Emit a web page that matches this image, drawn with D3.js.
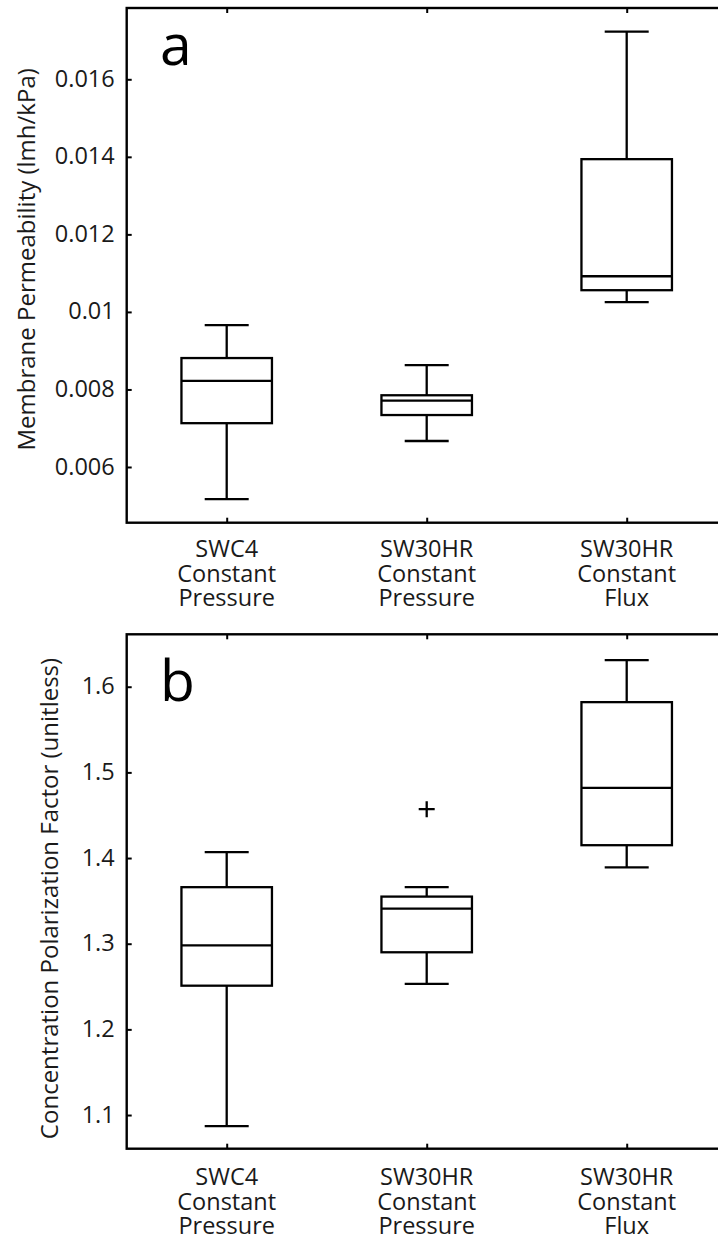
<!DOCTYPE html>
<html>
<head>
<meta charset="utf-8">
<script src="https://cdn.jsdelivr.net/npm/d3@7"></script>
<style>
  body { margin: 0; background: #fff; }
  svg { display: block; font-family: "Open Sans", sans-serif; }
</style>
</head>
<body>
<div id="chart"></div>
<script>
// categories (multi-line labels)
var categories = ["SWC4|Constant|Pressure", "SW30HR|Constant|Pressure", "SW30HR|Constant|Flux"];

// panel a: membrane permeability (lmh/kPa)
var permWhiskLow = [0.00517, 0.00667, 0.01025];
var permQ1 = [0.00713, 0.00734, 0.01056];
var permMedian = [0.00822, 0.00771, 0.01092];
var permQ3 = [0.00881, 0.00785, 0.01394];
var permWhiskHigh = [0.00966, 0.00863, 0.01723];
var permOutliers = [];
var permTicks = [0.006, 0.008, 0.01, 0.012, 0.014, 0.016];
var permTickLabels = ["0.006", "0.008", "0.01", "0.012", "0.014", "0.016"];

// panel b: concentration polarization factor
var cpWhiskLow = [1.087, 1.253, 1.389];
var cpQ1 = [1.251, 1.290, 1.415];
var cpMedian = [1.298, 1.341, 1.482];
var cpQ3 = [1.366, 1.355, 1.582];
var cpWhiskHigh = [1.407, 1.366, 1.631];
var cpOutliers = [[1, 1.457]];
var cpTicks = [1.1, 1.2, 1.3, 1.4, 1.5, 1.6];
var cpTickLabels = ["1.1", "1.2", "1.3", "1.4", "1.5", "1.6"];

var width = 718, height = 1241;

var svg = d3.select("#chart").append("svg")
  .attr("width", width)
  .attr("height", height);

function panel(opts) {
  var left = 126.7, right = 726.7;
  var x = d3.scalePoint().domain(d3.range(categories.length)).range([left, right]).padding(0.5);
  var y = d3.scaleLinear().domain(opts.domain).range([opts.bottom, opts.top]);
  var g = svg.append("g");
  var boxW = 90.5, capW = 44;

  // frame (right edge falls outside the picture)
  g.append("rect")
    .attr("x", left).attr("y", opts.top)
    .attr("width", right - left).attr("height", opts.bottom - opts.top)
    .attr("fill", "none").attr("stroke", "#000").attr("stroke-width", 2.4);

  // y axis, ticks pointing inward
  var yAxis = d3.axisLeft(y).tickValues(opts.ticks)
    .tickFormat(function(d, i) { return opts.tickLabels[i]; })
    .tickSizeInner(-5).tickSizeOuter(0).tickPadding(12);
  var ya = g.append("g").attr("transform", "translate(" + left + ",0)").call(yAxis);
  ya.select(".domain").remove();
  ya.selectAll("line").attr("stroke", "#000").attr("stroke-width", 2);
  ya.selectAll("text").attr("font-size", 23.5).attr("fill", "#1a1a1a")
    .attr("font-family", "Open Sans, sans-serif").attr("dy", "0.3em");

  // category ticks on top and bottom
  var xTop = d3.axisTop(x).tickSizeInner(-5).tickSizeOuter(0).tickFormat("");
  var xt = g.append("g").attr("transform", "translate(0," + opts.top + ")").call(xTop);
  var xBot = d3.axisBottom(x).tickSizeInner(-5).tickSizeOuter(0).tickFormat("");
  var xb = g.append("g").attr("transform", "translate(0," + opts.bottom + ")").call(xBot);
  [xt, xb].forEach(function(a) {
    a.select(".domain").remove();
    a.selectAll("line").attr("stroke", "#000").attr("stroke-width", 2);
  });

  // category labels
  var lab = g.selectAll(".cat").data(categories).enter().append("text")
    .attr("class", "cat")
    .attr("text-anchor", "middle")
    .attr("font-size", 23.5)
    .attr("fill", "#1a1a1a")
    .attr("transform", function(d, i) { return "translate(" + x(i) + "," + (opts.bottom + opts.labelOffset) + ")"; });
  lab.selectAll("tspan").data(function(d) { return d.split("|"); }).enter().append("tspan")
    .attr("x", 0).attr("y", function(d, i) { return i * 24.8; })
    .text(function(d) { return d; });

  // y title
  g.append("text")
    .attr("transform", "translate(" + opts.titleX + "," + ((opts.top + opts.bottom) / 2 + opts.titleShift) + ") rotate(-90)")
    .attr("text-anchor", "middle")
    .attr("font-size", opts.titleSize)
    .attr("fill", "#1a1a1a")
    .text(opts.title);

  // panel letter
  g.append("text")
    .attr("x", 160).attr("y", opts.top + opts.letterDy)
    .attr("font-size", 57)
    .attr("fill", "#000")
    .text(opts.letter);

  // boxes and whiskers
  var idx = d3.range(categories.length);
  function st(sel) { return sel.attr("stroke", "#000").attr("stroke-width", 2.3); }

  st(g.selectAll(".whisk").data(idx).enter().append("line")
    .attr("x1", function(i) { return x(i); }).attr("x2", function(i) { return x(i); })
    .attr("y1", function(i) { return y(opts.lo[i]); }).attr("y2", function(i) { return y(opts.hi[i]); }));
  st(g.selectAll(".capLo").data(idx).enter().append("line")
    .attr("x1", function(i) { return x(i) - capW / 2; }).attr("x2", function(i) { return x(i) + capW / 2; })
    .attr("y1", function(i) { return y(opts.lo[i]); }).attr("y2", function(i) { return y(opts.lo[i]); }));
  st(g.selectAll(".capHi").data(idx).enter().append("line")
    .attr("x1", function(i) { return x(i) - capW / 2; }).attr("x2", function(i) { return x(i) + capW / 2; })
    .attr("y1", function(i) { return y(opts.hi[i]); }).attr("y2", function(i) { return y(opts.hi[i]); }));
  st(g.selectAll(".box").data(idx).enter().append("rect")
    .attr("x", function(i) { return x(i) - boxW / 2; })
    .attr("width", boxW)
    .attr("y", function(i) { return y(opts.q3[i]); })
    .attr("height", function(i) { return y(opts.q1[i]) - y(opts.q3[i]); })
    .attr("fill", "#fff"));
  st(g.selectAll(".med").data(idx).enter().append("line")
    .attr("x1", function(i) { return x(i) - boxW / 2; }).attr("x2", function(i) { return x(i) + boxW / 2; })
    .attr("y1", function(i) { return y(opts.med[i]); }).attr("y2", function(i) { return y(opts.med[i]); }));

  // outliers drawn as plus signs
  st(g.selectAll(".out").data(opts.outliers).enter().append("path")
    .attr("transform", function(d) { return "translate(" + x(d[0]) + "," + y(d[1]) + ")"; })
    .attr("d", "M-8,0H8M0,-8V8")
    .attr("fill", "none"));
}

panel({
  top: 8, bottom: 522.7,
  domain: [0.004563, 0.017839],
  ticks: permTicks, tickLabels: permTickLabels,
  lo: permWhiskLow, q1: permQ1, med: permMedian, q3: permQ3, hi: permWhiskHigh,
  outliers: permOutliers,
  title: "Membrane Permeability (lmh/kPa)",
  titleX: 35, titleShift: -6, titleSize: 24,
  letter: "a", letterDy: 57,
  labelOffset: 34
});

panel({
  top: 634.3, bottom: 1148.7,
  domain: [1.0607, 1.6612],
  ticks: cpTicks, tickLabels: cpTickLabels,
  lo: cpWhiskLow, q1: cpQ1, med: cpMedian, q3: cpQ3, hi: cpWhiskHigh,
  outliers: cpOutliers,
  title: "Concentration Polarization Factor (unitless)",
  titleX: 58, titleShift: 7, titleSize: 24,
  letter: "b", letterDy: 67,
  labelOffset: 36
});
</script>
</body>
</html>
